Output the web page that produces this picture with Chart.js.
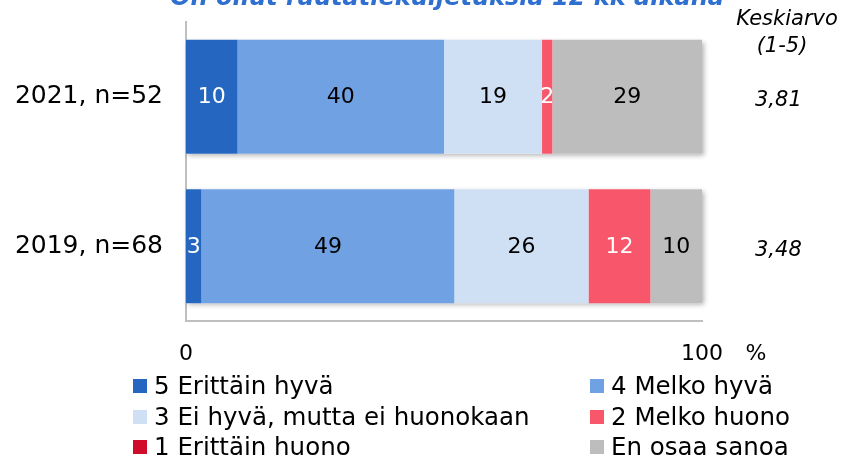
<!DOCTYPE html>
<html>
<head>
<meta charset="utf-8">
<script src="https://cdn.jsdelivr.net/npm/chart.js@4"></script>
<style>
  body { margin: 0; width: 844px; height: 462px; overflow: hidden; background: #fff; position: relative; font-family: 'DejaVu Sans', sans-serif; }
  #wrap { position: absolute; left: 0; top: -20px; width: 844px; height: 482px; }
  #legend { position: absolute; left: 133px; top: 371px; display: grid; grid-template-columns: 457px auto; font-size: 24.5px; line-height: 30.5px; color: #000; }
  #legend .item { display: flex; align-items: center; white-space: nowrap; }
  #legend .box { width: 14px; height: 14px; margin-right: 7px; }
</style>
</head>
<body>
<div id="wrap"><canvas id="chart"></canvas></div>
<div id="legend"></div>
<script>
// data
const categories = ['2021, n=52', '2019, n=68'];
const averages = ['3,81', '3,48'];
const seriesNames = ['5 Erittäin hyvä', '4 Melko hyvä', '3 Ei hyvä, mutta ei huonokaan', '2 Melko huono', '1 Erittäin huono', 'En osaa sanoa'];
const erittainHyva = [10, 3];
const melkoHyva = [40, 49];
const eiHyvaEiHuono = [19, 26];
const melkoHuono = [2, 12];
const erittainHuono = [0, 0];
const enOsaaSanoa = [29, 10];
const xTicks = [0, 100];

const colors = ['#2566C0', '#70A1E2', '#CFDFF4', '#F7566B', '#D00C2A', '#BDBDBD'];
const labelColors = ['#fff', '#000', '#000', '#fff', '#fff', '#000'];
const values = [erittainHyva, melkoHyva, eiHyvaEiHuono, melkoHuono, erittainHuono, enOsaaSanoa];

const datasets = seriesNames.map((name, i) => ({
    label: name,
    data: values[i],
    backgroundColor: colors[i],
    borderWidth: 0,
    barPercentage: 0.763,
    categoryPercentage: 1,
    yAxisID: 'y'
}));

// soft shadow behind each stacked bar
const barShadow = {
    id: 'barShadow',
    beforeDatasetsDraw(chart) {
        const ctx = chart.ctx;
        const first = chart.getDatasetMeta(0);
        const last = chart.getDatasetMeta(chart.data.datasets.length - 1);
        ctx.save();
        ctx.shadowColor = 'rgba(0,0,0,0.3)';
        ctx.shadowBlur = 5;
        ctx.shadowOffsetX = 2;
        ctx.shadowOffsetY = 2;
        ctx.fillStyle = '#fff';
        first.data.forEach((el, i) => {
            const l = el.base;
            const r = last.data[i].x;
            ctx.fillRect(l, el.y - el.height / 2, r - l, el.height);
        });
        ctx.restore();
    }
};

// values inside the segments
const segmentLabels = {
    id: 'segmentLabels',
    afterDatasetsDraw(chart) {
        const ctx = chart.ctx;
        ctx.save();
        ctx.font = '22px "DejaVu Sans"';
        ctx.textAlign = 'center';
        ctx.textBaseline = 'middle';
        chart.data.datasets.forEach((ds, di) => {
            chart.getDatasetMeta(di).data.forEach((el, i) => {
                const v = ds.data[i];
                if (!v) return;
                ctx.fillStyle = labelColors[di];
                ctx.fillText(String(v), (el.x + el.base) / 2, el.y + 1);
            });
        });
        ctx.restore();
    }
};

// "Keskiarvo (1-5)" header and the % sign
const extraText = {
    id: 'extraText',
    afterDraw(chart) {
        const ctx = chart.ctx;
        const y2 = chart.scales.y2;
        const x = chart.scales.x;
        const top = chart.chartArea.top;
        ctx.save();
        ctx.fillStyle = '#000';
        ctx.textAlign = 'center';
        ctx.textBaseline = 'middle';
        ctx.font = 'italic 21px "DejaVu Sans"';
        ctx.fillText('Keskiarvo', y2.left + 85, top - 2);
        ctx.fillText('(1-5)', y2.left + 80, top + 25);
        ctx.font = '22px "DejaVu Sans"';
        ctx.fillText('%', x.right + 54, chart.chartArea.bottom + 33);
        ctx.restore();
    }
};

// html legend in two columns
const htmlLegend = {
    id: 'htmlLegend',
    afterUpdate(chart) {
        const box = document.getElementById('legend');
        box.innerHTML = '';
        const items = chart.options.plugins.legend.labels.generateLabels(chart);
        items.forEach(item => {
            const div = document.createElement('div');
            div.className = 'item';
            const sq = document.createElement('span');
            sq.className = 'box';
            sq.style.background = item.fillStyle;
            const txt = document.createElement('span');
            txt.textContent = item.text;
            div.appendChild(sq);
            div.appendChild(txt);
            box.appendChild(div);
        });
    }
};

function noVPadding(axis, width) {
    axis.width = width;
    axis.paddingTop = 0;
    axis.paddingBottom = 0;
}

const config = {
    type: 'bar',
    data: {
        labels: categories,
        datasets: datasets
    },
    options: {
        indexAxis: 'y',
        responsive: true,
        maintainAspectRatio: false,
        animation: false,
        layout: {
            padding: { left: 0, right: 0, top: 0, bottom: 96 }
        },
        plugins: {
            legend: { display: false },
            tooltip: { enabled: false },
            title: {
                display: true,
                text: '      On ollut rautatiekuljetuksia 12 kk aikana',
                color: '#2E6FCF',
                font: { family: 'DejaVu Sans', size: 24, style: 'italic', weight: 'bold' },
                padding: { top: 4.5, bottom: 8.7 }
            }
        },
        scales: {
            x: {
                stacked: true,
                min: 0,
                max: 100,
                afterBuildTicks: axis => { axis.ticks = xTicks.map(v => ({ value: v })); },
                afterFit: axis => { axis.height = 45; },
                grid: { display: false, drawTicks: false },
                border: { display: true, color: '#BFBFBF', width: 2 },
                ticks: {
                    padding: 20,
                    color: '#000',
                    maxRotation: 0,
                    font: { family: 'DejaVu Sans', size: 22 }
                }
            },
            y: {
                stacked: true,
                afterFit: axis => noVPadding(axis, 186),
                grid: { display: false, drawTicks: false },
                border: { display: true, color: '#BFBFBF', width: 2 },
                ticks: {
                    padding: 23,
                    color: '#000',
                    font: { family: 'DejaVu Sans', size: 25 }
                }
            },
            y2: {
                type: 'category',
                position: 'right',
                labels: averages,
                offset: true,
                afterFit: axis => noVPadding(axis, 142),
                grid: { display: false, drawTicks: false },
                border: { display: false },
                ticks: {
                    padding: 53,
                    crossAlign: 'near',
                    labelOffset: 4,
                    color: '#000',
                    font: { family: 'DejaVu Sans', size: 21, style: 'italic' }
                }
            }
        }
    },
    plugins: [barShadow, segmentLabels, extraText, htmlLegend]
};

const chart = new Chart(document.getElementById('chart'), config);
</script>
</body>
</html>
